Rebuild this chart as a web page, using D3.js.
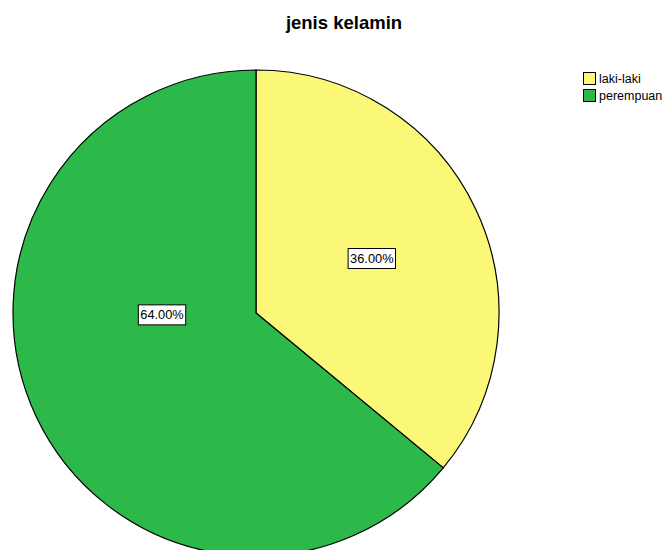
<!DOCTYPE html>
<html>
<head>
<meta charset="utf-8">
<script src="https://cdn.jsdelivr.net/npm/d3@7"></script>
<style>
body { margin: 0; background: #fff; }
svg { font-family: "Liberation Sans", Arial, sans-serif; }
</style>
</head>
<body>
<svg id="chart" width="667" height="550"></svg>
<script>
// data
var categories = ["laki-laki", "perempuan"];
var values = [36, 64];
var colors = ["#fbf877", "#2db84a"];
var title = "jenis kelamin";

var svg = d3.select("#chart");
var cx = 256, cy = 313, r = 243;

svg.append("text")
  .attr("x", 344).attr("y", 29)
  .attr("text-anchor", "middle")
  .attr("font-size", 18.5).attr("font-weight", "bold")
  .text(title);

var pie = d3.pie().sort(null).value(function(d) { return d; });
var arcs = pie(values);
var arc = d3.arc().innerRadius(0).outerRadius(r);

var g = svg.append("g").attr("transform", "translate(" + cx + "," + cy + ")");

g.selectAll("path")
  .data(arcs)
  .enter().append("path")
  .attr("d", arc)
  .attr("fill", function(d, i) { return colors[i]; })
  .attr("stroke", "#000")
  .attr("stroke-width", 1.2);

var total = d3.sum(values);
// label spots: yellow near its centroid, green pulled toward the left
arcs.forEach(function(d, i) {
  var mid = (d.startAngle + d.endAngle) / 2;
  var lr = i == 0 ? 128 : 94;
  if (i == 1) mid = mid + 0.42;
  var x = Math.sin(mid) * lr, y = -Math.cos(mid) * lr;
  var t = g.append("text")
    .attr("x", x).attr("y", y + 4.5)
    .attr("text-anchor", "middle")
    .attr("font-size", 12.8)
    .text((d.data / total * 100).toFixed(2) + "%");
  var b = t.node().getBBox();
  g.insert("rect", "text")
    .attr("x", b.x - 2).attr("y", y - 10)
    .attr("width", b.width + 4).attr("height", 20)
    .attr("fill", "#fff").attr("stroke", "#000").attr("stroke-width", 1);
});
// move texts above rects
g.selectAll("text").raise();

var leg = svg.append("g").attr("transform", "translate(583,72)");
categories.forEach(function(c, i) {
  leg.append("rect")
    .attr("x", 0.5).attr("y", i * 17 + 0.5)
    .attr("width", 12).attr("height", 12)
    .attr("fill", colors[i]).attr("stroke", "#000").attr("stroke-width", 1);
  leg.append("text")
    .attr("x", 16).attr("y", i * 17 + 11)
    .attr("font-size", 12.5)
    .text(c);
});
</script>
</body>
</html>
